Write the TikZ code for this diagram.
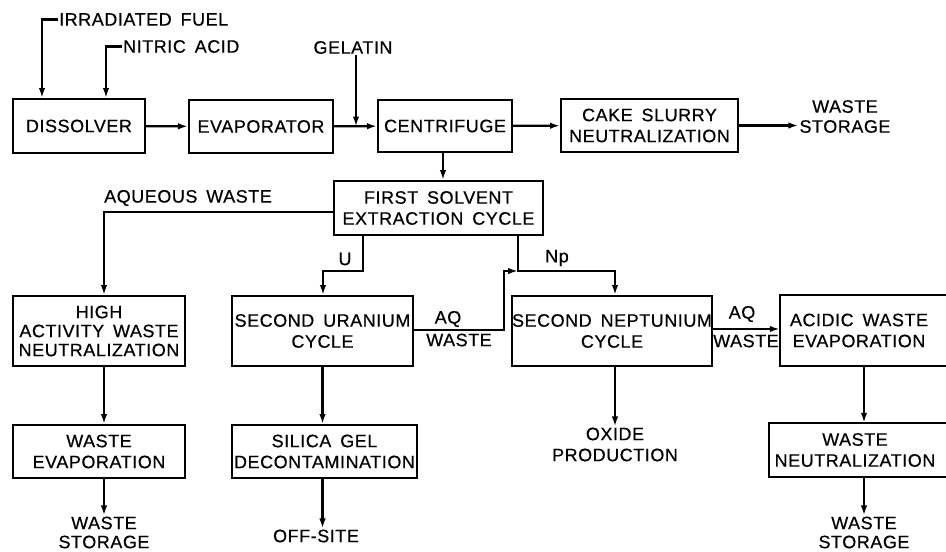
\documentclass[tikz,border=0pt]{standalone}
\usepackage{fontspec}
\setmainfont{Liberation Sans}[LetterSpace=3, WordSpace=1.6, FakeBold=0.5]
\usetikzlibrary{arrows.meta}
\begin{document}
\begin{tikzpicture}[x=1pt,y=-1pt,
  every node/.style={font=\fontsize{18}{21}\selectfont},
  box/.style={draw, line width=2pt, align=center, inner sep=0pt},
  openbox/.style={draw=none, align=center, inner sep=0pt},
  lbl/.style={inner sep=1pt, align=center},
  arr/.style={line width=2.2pt, -{Latex[length=10pt,width=6.5pt]}},
  edge3/.style={line width=2pt}]
\clip (0,0) rectangle (946,552);
\fill[white] (0,0) rectangle (946,552);
% process boxes
\node[box, minimum width=132, minimum height=54] (diss) at (79,126) {DISSOLVER};
\node[box, minimum width=144, minimum height=53] (evap) at (261,126.5) {EVAPORATOR};
\node[box, minimum width=134, minimum height=52] (cent) at (445,126) {CENTRIFUGE};
\node[box, minimum width=177, minimum height=53] (cake) at (649.5,125.5) {CAKE SLURRY\\NEUTRALIZATION};
\node[box, minimum width=209, minimum height=54] (first) at (438.5,208) {FIRST SOLVENT\\EXTRACTION CYCLE};
\node[box, minimum width=172, minimum height=70, font=\fontsize{18}{19}\selectfont] (haw) at (99,331) {HIGH\\ACTIVITY WASTE\\NEUTRALIZATION};
\node[box, minimum width=181, minimum height=70] (su) at (322.5,331) {SECOND URANIUM\\CYCLE};
\node[box, minimum width=196, minimum height=70] (sn) at (612,331) {SECOND NEPTUNIUM\\CYCLE};
\node[openbox, minimum width=158, minimum height=71] (awe) at (859,330.5) {ACIDIC WASTE\\EVAPORATION};
\draw[edge3] ([xshift=220pt]awe.north west) -- (awe.north west) -- (awe.south west) -- ([xshift=220pt]awe.south west);
\node[box, minimum width=172, minimum height=53] (we) at (99,451.5) {WASTE\\EVAPORATION};
\node[box, minimum width=185, minimum height=53] (sg) at (324.5,451.5) {SILICA GEL\\DECONTAMINATION};
\node[openbox, minimum width=172, minimum height=54] (wn) at (855,450) {WASTE\\NEUTRALIZATION};
\draw[edge3] ([xshift=220pt]wn.north west) -- (wn.north west) -- (wn.south west) -- ([xshift=220pt]wn.south west);
% terminal texts
\node[lbl, anchor=west] (fuel) at (58,19.5) {IRRADIATED FUEL};
\node[lbl, anchor=west] (acid) at (122,46.5) {NITRIC ACID};
\node[lbl] (gel) at (353,47.5) {GELATIN};
\node[lbl, font=\fontsize{18}{20}\selectfont] (ws1) at (845,116.5) {WASTE\\STORAGE};
\node[lbl, font=\fontsize{18}{19}\selectfont] (ws2) at (104,532.5) {WASTE\\STORAGE};
\node[lbl] (off) at (316,536) {OFF-SITE};
\node[lbl, font=\fontsize{18}{21}\selectfont] (ox) at (615,444.5) {OXIDE\\PRODUCTION};
\node[lbl, font=\fontsize{18}{19}\selectfont] (ws3) at (864,532.5) {WASTE\\STORAGE};
% connector labels
\node[lbl] (aqw) at (188,198) {AQUEOUS WASTE};
\node[lbl] (ulbl) at (345,259) {U};
\node[lbl] (nplbl) at (557,258) {Np};
\node[lbl] (aq1) at (448,319) {AQ};
\node[lbl] (wst1) at (459,340) {WASTE};
\node[lbl] (aq2) at (742,314) {AQ};
\node[lbl] (wst2) at (746,341) {WASTE};
% connectors
\draw[arr] (fuel.west) -| ([xshift=30pt]diss.north west);
\draw[arr] (acid.west) -| ([xshift=94pt]diss.north west);
\draw[arr] (diss) -- (evap);
\draw[arr] (evap) -- (cent);
\draw[arr] ([xshift=3pt]gel.south) -- ([xshift=3pt]gel.south |- evap.east);
\draw[arr] (cent) -- (cake);
\draw[arr] (cake.east) -- (cake.east -| ws1.west);
\draw[arr] ([xshift=-2pt]cent.south) -- ([xshift=-2pt]cent.south |- first.north);
\draw[arr] ([yshift=-4pt]first.west) -| ([xshift=5pt]haw.north);
\draw[arr] ([xshift=-75.5pt]first.south) -- ++(0,35) -| ([xshift=0.5pt]su.north);
\coordinate (npj) at ([yshift=-35pt, xshift=79.5pt]first.south);
\draw[arr] ([xshift=79.5pt]first.south) -- (npj) -| ([xshift=3pt]sn.north);
\draw[arr] ([yshift=1pt]su.east) -- ++(90,0) |- (npj);
\draw[arr] ([yshift=2pt]sn.east) -- ([yshift=2pt]sn.east -| awe.west);
\draw[arr] ([xshift=5pt]haw.south) -- ([xshift=5pt]we.north);
\draw[arr] ([xshift=5pt]we.south) -- ([xshift=5pt]we.south |- ws2.north);
\draw[arr] (su.south) -- (su.south |- sg.north);
\draw[arr] (su.south |- sg.south) -- (su.south |- off.north);
\draw[arr] ([xshift=3pt]sn.south) -- ([xshift=3pt]sn.south |- ox.north);
\draw[arr] ([xshift=5pt]awe.south) -- ([xshift=5pt]awe.south |- wn.north);
\draw[arr] ([xshift=9pt]wn.south) -- ([xshift=9pt]wn.south |- ws3.north);
\end{tikzpicture}
\end{document}
